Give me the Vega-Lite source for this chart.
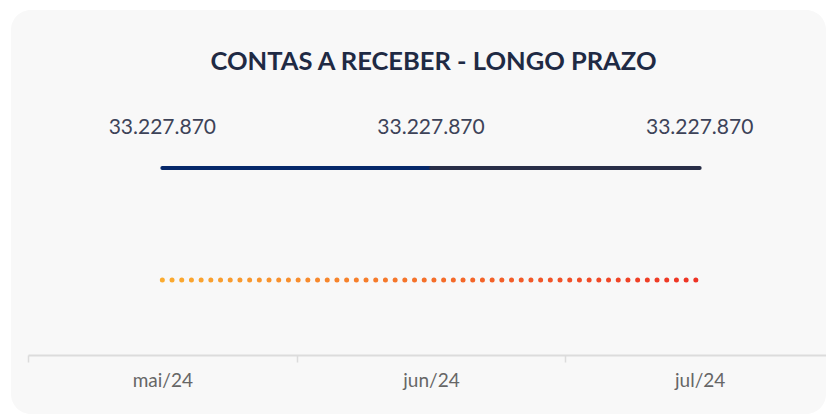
{
  "$schema": "https://vega.github.io/schema/vega-lite/v6.json",
  "width": 815,
  "height": 404,
  "autosize": {"type": "none"},
  "padding": {"left": 11, "top": 10, "right": 0, "bottom": 0},
  "background": "#ffffff",
  "config": {
    "view": {"fill": "#f8f8f8", "stroke": null, "cornerRadius": 20},
    "font": "Lato",
    "locale": {
      "number": {"decimal": ",", "thousands": ".", "grouping": [3], "currency": ["R$", ""]}
    }
  },
  "title": {
    "text": "CONTAS A RECEBER - LONGO PRAZO",
    "font": "Lato",
    "fontSize": 25.5,
    "fontWeight": "bold",
    "color": "#1f2a44",
    "anchor": "middle",
    "baseline": "middle",
    "offset": -77,
    "dx": 15
  },
  "datasets": {
    "saldo": [
      {"mes": "mai/24", "valor": 33227870},
      {"mes": "jun/24", "valor": 33227870},
      {"mes": "jul/24", "valor": 33227870}
    ],
    "trechos": [
      {"mes": "mai/24", "valor": 33227870, "trecho": "mai-jun"},
      {"mes": "jun/24", "valor": 33227870, "trecho": "mai-jun"},
      {"mes": "jun/24", "valor": 33227870, "trecho": "jun-jul"},
      {"mes": "jul/24", "valor": 33227870, "trecho": "jun-jul"}
    ],
    "referencia": [
      {"mes": "mai/24", "valor": 18100000},
      {"mes": "jun/24", "valor": 18100000},
      {"mes": "jul/24", "valor": 18100020}
    ]
  },
  "encoding": {
    "x": {
      "field": "mes",
      "type": "ordinal",
      "sort": ["mai/24", "jun/24", "jul/24"],
      "scale": {"range": [17, 823], "paddingInner": 0, "paddingOuter": 0},
      "axis": {
        "title": null,
        "orient": "bottom",
        "offset": -59,
        "tickBand": "extent",
        "domainColor": "#dcdcdc",
        "domainWidth": 2,
        "tickColor": "#dcdcdc",
        "tickWidth": 1.5,
        "tickSize": 7,
        "labelFont": "Lato",
        "labelFontSize": 19,
        "labelColor": "#666666",
        "labelPadding": 9,
        "labelAngle": 0
      }
    },
    "y": {
      "field": "valor",
      "type": "quantitative",
      "scale": {"domain": [0, 54570000], "nice": false},
      "axis": null
    }
  },
  "layer": [
    {
      "data": {"name": "referencia"},
      "mark": {
        "type": "line",
        "strokeWidth": 5,
        "strokeCap": "round",
        "strokeDash": [0, 9.7],
        "color": {
          "x1": 0, "y1": 0, "x2": 1, "y2": 0,
          "gradient": "linear",
          "stops": [
            {"offset": 0, "color": "#fbab2f"},
            {"offset": 1, "color": "#ee3224"}
          ]
        }
      }
    },
    {
      "data": {"name": "trechos"},
      "mark": {"type": "line", "strokeWidth": 4, "strokeCap": "round"},
      "encoding": {
        "color": {
          "field": "trecho",
          "type": "nominal",
          "scale": {"domain": ["mai-jun", "jun-jul"], "range": ["#06286a", "#282e48"]},
          "legend": null
        }
      }
    },
    {
      "data": {"name": "saldo"},
      "mark": {
        "type": "text",
        "dy": -40,
        "font": "Lato",
        "fontSize": 21,
        "color": "#3d4358",
        "baseline": "middle",
        "align": "center"
      },
      "encoding": {
        "text": {"field": "valor", "type": "quantitative", "format": ",.0f", "formatType": "number"}
      }
    }
  ]
}
